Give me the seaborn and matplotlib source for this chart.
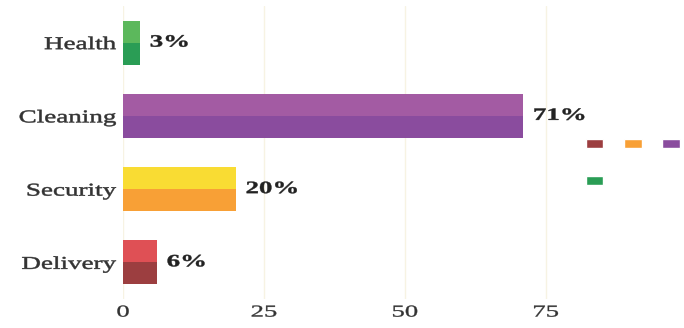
import matplotlib
matplotlib.use("Agg")
import matplotlib.pyplot as plt
import seaborn as sns
import pandas as pd
from matplotlib.patches import Rectangle, Patch
from matplotlib.patheffects import AbstractPathEffect
from matplotlib.transforms import Affine2D

categories = ["Health", "Cleaning", "Security", "Delivery"]
values = [3, 71, 20, 6]
light_colors = ["#5cb85c", "#a35ba3", "#f9dc33", "#df5055"]
dark_colors = ["#2a9d55", "#8a4c9e", "#f8a036", "#9c3e40"]
x_ticks = [0, 25, 50, 75]


class HStretch(AbstractPathEffect):
    """Stretch text horizontally about an anchor (0 left, 0.5 centre, 1 right)."""
    def __init__(self, sx, anchor, stroke=0.0):
        super().__init__()
        self.sx = sx
        self.anchor = anchor
        self.stroke = stroke

    def draw_path(self, renderer, gc, tpath, affine, rgbFace=None):
        ext = tpath.get_extents()
        a = ext.x0 + self.anchor * ext.width
        pre = Affine2D().translate(-a, 0).scale(self.sx, 1).translate(a, 0)
        gc0 = renderer.new_gc()
        gc0.copy_properties(gc)
        if self.stroke > 0 and rgbFace is not None:
            gc0.set_linewidth(self.stroke)
            gc0.set_foreground(rgbFace)
            gc0.set_joinstyle("round")
        renderer.draw_path(gc0, tpath, pre + affine, rgbFace)
        gc0.restore()


df = pd.DataFrame({"category": categories, "value": values})

sns.set_style("white")
plt.rcParams["font.family"] = ["Liberation Serif", "DejaVu Serif"]

fig = plt.figure(figsize=(6.84, 3.28), dpi=100)
ax = fig.add_axes([123 / 684, 1 - 299 / 328, 1 - 123 / 684, 293 / 328])

sns.barplot(data=df, x="value", y="category", hue="category", palette=dark_colors,
            orient="h", width=0.6, legend=False, ax=ax, saturation=1)

for patch, lc in zip(ax.patches, light_colors):
    x0, y0 = patch.get_x(), patch.get_y()
    w, h = patch.get_width(), patch.get_height()
    patch.set_linewidth(0)
    ax.add_patch(Rectangle((x0, y0), w, h / 2, facecolor=lc, linewidth=0,
                           zorder=patch.get_zorder() + 0.1))

for i, v in enumerate(values):
    ax.text(v + 1.8, i, f"{v}%", va="center", ha="left", fontsize=12.5,
            fontweight="bold", color="#222222", path_effects=[HStretch(1.55, 0, 0.3)])

ax.set_xlim(0, 99.5)
ax.set_xticks(x_ticks)
ax.set_xticklabels([str(t) for t in x_ticks], fontsize=12, color="#333333")
ax.tick_params(axis="y", labelsize=13, labelcolor="#333333", length=0, pad=5)
ax.tick_params(axis="x", length=0, pad=4)
ax.set_xlabel("")
ax.set_ylabel("")
ax.grid(axis="x", color="#f7f3e3", linewidth=1)
ax.set_axisbelow(True)
for s in ax.spines.values():
    s.set_visible(False)

for t in ax.get_yticklabels():
    t.set_path_effects([HStretch(1.5, 1, 0.35)])
for t in ax.get_xticklabels():
    t.set_path_effects([HStretch(1.6, 0.5, 0.25)])

handles = [Patch(facecolor=dark_colors[3]), Patch(facecolor=dark_colors[0]),
           Patch(facecolor=dark_colors[2]), Patch(facecolor=dark_colors[1])]
fig.legend(handles, ["", "", "", ""], ncol=3, loc="upper left",
           bbox_to_anchor=(586 / 684, 1 - 138 / 328), bbox_transform=fig.transFigure,
           frameon=False, fontsize=10, handlelength=1.25, handleheight=0.6,
           labelspacing=1.75, columnspacing=0.7, borderpad=0, borderaxespad=0)

fig.savefig("out.png", dpi=100)
